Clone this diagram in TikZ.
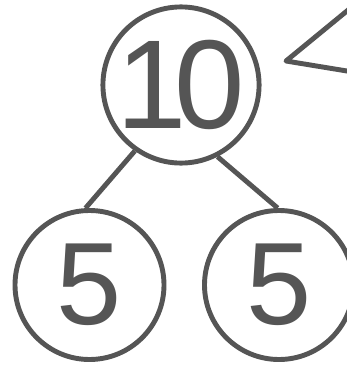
\documentclass[tikz,border=0pt]{standalone}
\usepackage{fontspec}
\setmainfont{Liberation Sans}
\usepackage{tikz}
\definecolor{pen}{RGB}{85,85,85}

\begin{document}
\begin{tikzpicture}[x=0.03cm,y=-0.03cm,
    ball/.style={circle,draw=pen,line width=4.2pt,minimum size=4.47cm,inner sep=0pt,text=pen},
    stick/.style={draw=pen,line width=4.2pt}]
      \clip (0,0) rectangle (347,365);
      \node[ball,font=\fontsize{108}{108}\selectfont] (ten) at (181,85) {1\kern-.1em0};
      \node[ball,font=\fontsize{100}{100}\selectfont] (fiveL) at (89.5,285) {5};
      \node[ball,font=\fontsize{100}{100}\selectfont] (fiveR) at (279,285) {5};
      \draw[stick] (ten.235) -- (fiveL.93);
      \draw[stick] (ten.297) -- (fiveR.91);
      \draw[stick,line join=round] (353,6) -- (286,61) -- (353,72);
    \end{tikzpicture}
\end{document}
